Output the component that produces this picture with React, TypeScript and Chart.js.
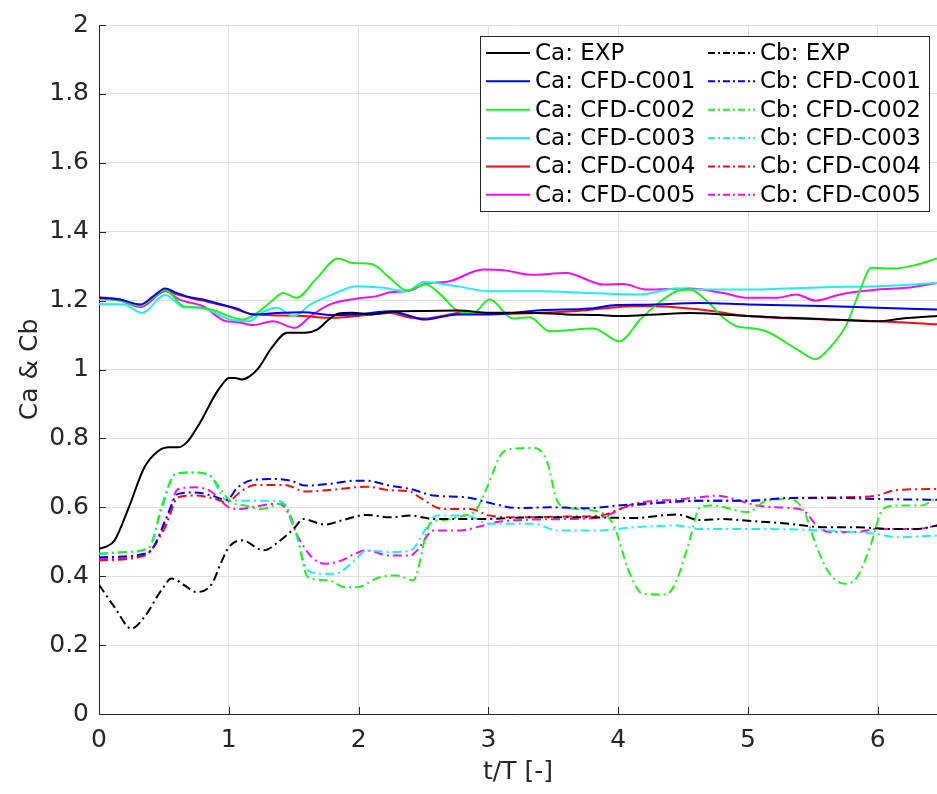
import React, { useEffect, useRef } from "react";
import { Chart, registerables } from "chart.js";

Chart.register(...registerables);

// ---- axis range / ticks ----
const X_MIN = 0;
const X_MAX = 6.456;
const X_STEP = 1;
const Y_MIN = 0;
const Y_MAX = 2;
const Y_STEP = 0.2;

const X_TITLE = "t/T [-]";
const Y_TITLE = "Ca & Cb";

// ---- Ca series ----
const caExpT = [0, 0.05, 0.12, 0.23, 0.35, 0.46, 0.54, 0.61, 0.68, 0.74, 0.8, 0.84, 0.9, 0.95, 1.0, 1.05, 1.1, 1.16, 1.23, 1.33, 1.45, 1.52, 1.59, 1.68, 1.77, 1.84, 1.95, 2.1, 2.28, 2.5, 2.77, 3.0, 3.3, 3.6, 3.85, 4.0, 4.2, 4.4, 4.55, 4.8, 5.0, 5.32, 5.6, 6.0, 6.19, 6.456];
const caExpV = [0.48, 0.485, 0.504, 0.6, 0.716, 0.764, 0.774, 0.774, 0.79, 0.822, 0.86, 0.889, 0.93, 0.957, 0.975, 0.975, 0.971, 0.98, 1.005, 1.063, 1.107, 1.107, 1.107, 1.116, 1.145, 1.162, 1.165, 1.16, 1.169, 1.17, 1.171, 1.165, 1.165, 1.16, 1.158, 1.155, 1.158, 1.162, 1.164, 1.16, 1.155, 1.15, 1.146, 1.14, 1.148, 1.155];

const caC001T = [0, 0.16, 0.32, 0.42, 0.51, 0.6, 0.7, 0.8, 0.96, 1.06, 1.19, 1.37, 1.57, 1.8, 1.98, 2.24, 2.4, 2.5, 2.76, 3.01, 3.4, 3.78, 3.99, 4.2, 4.63, 5.0, 5.58, 6.0, 6.456];
const caC001V = [1.208, 1.203, 1.189, 1.213, 1.235, 1.222, 1.21, 1.203, 1.187, 1.177, 1.16, 1.164, 1.166, 1.158, 1.16, 1.169, 1.155, 1.145, 1.16, 1.16, 1.172, 1.177, 1.187, 1.188, 1.193, 1.189, 1.184, 1.179, 1.174];

const caC002T = [0, 0.16, 0.32, 0.42, 0.51, 0.65, 0.75, 0.9, 1.0, 1.11, 1.215, 1.32, 1.42, 1.52, 1.68, 1.84, 1.96, 2.1, 2.24, 2.37, 2.52, 2.63, 2.77, 2.88, 3.01, 3.19, 3.32, 3.47, 3.81, 4.01, 4.17, 4.3, 4.45, 4.55, 4.71, 4.81, 4.91, 5.0, 5.14, 5.4, 5.52, 5.63, 5.76, 5.86, 5.95, 6.12, 6.3, 6.456];
const caC002V = [1.205, 1.2, 1.185, 1.21, 1.23, 1.184, 1.181, 1.17, 1.155, 1.145, 1.164, 1.195, 1.222, 1.208, 1.266, 1.322, 1.309, 1.306, 1.266, 1.23, 1.247, 1.218, 1.169, 1.164, 1.203, 1.148, 1.152, 1.111, 1.119, 1.082, 1.145, 1.19, 1.227, 1.232, 1.189, 1.15, 1.126, 1.121, 1.111, 1.053, 1.03, 1.063, 1.131, 1.227, 1.295, 1.293, 1.304, 1.322];

const caC003T = [0, 0.19, 0.33, 0.51, 0.65, 0.78, 1.01, 1.16, 1.24, 1.37, 1.5, 1.63, 1.8, 1.985, 2.19, 2.37, 2.5, 2.756, 3.01, 3.4, 3.78, 4.17, 4.45, 4.55, 5.0, 5.58, 6.0, 6.456];
const caC003V = [1.19, 1.189, 1.164, 1.216, 1.181, 1.179, 1.145, 1.14, 1.162, 1.179, 1.155, 1.189, 1.218, 1.242, 1.237, 1.227, 1.254, 1.242, 1.227, 1.227, 1.222, 1.218, 1.235, 1.232, 1.232, 1.239, 1.242, 1.251];

const caC004T = [0, 0.16, 0.32, 0.42, 0.51, 0.6, 0.7, 0.8, 0.98, 1.19, 1.37, 1.57, 1.8, 1.98, 2.24, 2.4, 2.5, 2.83, 3.14, 3.65, 3.99, 4.2, 4.63, 5.0, 5.58, 6.0, 6.456];
const caC004V = [1.21, 1.203, 1.186, 1.21, 1.229, 1.218, 1.208, 1.2, 1.184, 1.16, 1.157, 1.155, 1.15, 1.155, 1.164, 1.15, 1.148, 1.166, 1.162, 1.169, 1.181, 1.184, 1.174, 1.155, 1.145, 1.14, 1.131];

const caC005T = [0, 0.16, 0.32, 0.51, 0.62, 0.8, 0.98, 1.06, 1.19, 1.34, 1.51, 1.63, 1.78, 1.99, 2.14, 2.24, 2.4, 2.5, 2.7, 2.96, 3.14, 3.32, 3.6, 3.885, 4.04, 4.22, 4.55, 4.81, 5.0, 5.22, 5.37, 5.52, 5.71, 6.0, 6.22, 6.456];
const caC005V = [1.208, 1.2, 1.181, 1.227, 1.203, 1.184, 1.14, 1.138, 1.129, 1.14, 1.121, 1.155, 1.189, 1.206, 1.213, 1.224, 1.229, 1.247, 1.256, 1.29, 1.287, 1.275, 1.28, 1.247, 1.248, 1.232, 1.235, 1.222, 1.208, 1.208, 1.218, 1.2, 1.218, 1.232, 1.237, 1.251];

// ---- Cb series ----
const cbExpT = [0, 0.12, 0.25, 0.35, 0.48, 0.56, 0.66, 0.75, 0.87, 0.93, 1.0, 1.1, 1.27, 1.38, 1.51, 1.57, 1.74, 1.87, 2.06, 2.24, 2.4, 2.58, 2.96, 3.35, 3.73, 4.12, 4.45, 4.63, 4.81, 5.0, 5.32, 5.58, 5.84, 6.09, 6.3, 6.456];
const cbExpV = [0.375, 0.31, 0.248, 0.282, 0.359, 0.393, 0.373, 0.354, 0.378, 0.43, 0.484, 0.504, 0.475, 0.499, 0.542, 0.566, 0.55, 0.562, 0.578, 0.571, 0.576, 0.566, 0.566, 0.571, 0.571, 0.569, 0.579, 0.563, 0.566, 0.561, 0.552, 0.542, 0.542, 0.537, 0.537, 0.547];

const cbC001T = [0, 0.35, 0.42, 0.52, 0.61, 0.74, 0.87, 0.98, 1.07, 1.18, 1.38, 1.48, 1.59, 1.77, 1.97, 2.06, 2.24, 2.4, 2.58, 2.83, 3.04, 3.22, 3.47, 3.76, 3.99, 4.245, 4.63, 5.0, 5.32, 5.71, 5.99, 6.456];
const cbC001V = [0.455, 0.465, 0.484, 0.571, 0.639, 0.643, 0.634, 0.621, 0.658, 0.679, 0.682, 0.677, 0.663, 0.668, 0.677, 0.677, 0.663, 0.653, 0.634, 0.629, 0.61, 0.598, 0.6, 0.597, 0.605, 0.612, 0.619, 0.619, 0.627, 0.627, 0.624, 0.622];

const cbC002T = [0, 0.2, 0.39, 0.48, 0.59, 0.74, 0.855, 0.945, 1.02, 1.125, 1.25, 1.41, 1.51, 1.61, 1.77, 1.9, 1.985, 2.16, 2.29, 2.42, 2.55, 2.65, 2.8, 2.9, 2.99, 3.11, 3.22, 3.35, 3.45, 3.53, 3.6, 3.86, 3.96, 4.09, 4.19, 4.37, 4.45, 4.55, 4.63, 4.73, 5.0, 5.14, 5.32, 5.43, 5.53, 5.63, 5.75, 5.84, 5.94, 6.04, 6.14, 6.33, 6.456];
const cbC002V = [0.465, 0.47, 0.484, 0.6, 0.697, 0.701, 0.692, 0.648, 0.615, 0.605, 0.595, 0.61, 0.542, 0.397, 0.388, 0.368, 0.368, 0.397, 0.402, 0.388, 0.552, 0.563, 0.575, 0.59, 0.658, 0.759, 0.771, 0.772, 0.735, 0.619, 0.6, 0.586, 0.552, 0.407, 0.349, 0.347, 0.388, 0.504, 0.6, 0.605, 0.586, 0.619, 0.624, 0.59, 0.484, 0.407, 0.378, 0.397, 0.484, 0.595, 0.605, 0.605, 0.629];

const cbC003T = [0, 0.2, 0.38, 0.48, 0.59, 0.74, 0.855, 0.97, 1.07, 1.36, 1.43, 1.51, 1.61, 1.72, 1.82, 1.97, 2.06, 2.24, 2.4, 2.525, 2.6, 2.83, 3.01, 3.35, 3.53, 3.86, 4.12, 4.45, 4.63, 5.0, 5.58, 5.99, 6.14, 6.456];
const cbC003V = [0.465, 0.47, 0.482, 0.59, 0.697, 0.701, 0.692, 0.624, 0.619, 0.619, 0.61, 0.533, 0.417, 0.407, 0.407, 0.446, 0.475, 0.47, 0.475, 0.542, 0.576, 0.576, 0.552, 0.552, 0.533, 0.533, 0.542, 0.547, 0.537, 0.537, 0.533, 0.523, 0.513, 0.518];

const cbC004T = [0, 0.35, 0.51, 0.61, 0.74, 0.87, 0.98, 1.1, 1.2, 1.43, 1.59, 1.77, 1.97, 2.06, 2.24, 2.4, 2.47, 2.65, 2.86, 3.01, 3.22, 3.6, 3.86, 4.07, 4.245, 4.63, 5.0, 5.32, 5.71, 5.99, 6.14, 6.456];
const cbC004V = [0.446, 0.46, 0.542, 0.629, 0.634, 0.627, 0.615, 0.648, 0.665, 0.665, 0.646, 0.65, 0.658, 0.66, 0.65, 0.645, 0.629, 0.595, 0.595, 0.576, 0.571, 0.573, 0.576, 0.602, 0.61, 0.619, 0.619, 0.627, 0.629, 0.634, 0.65, 0.653];

const cbC005T = [0, 0.35, 0.51, 0.61, 0.74, 0.855, 1.0, 1.07, 1.36, 1.43, 1.535, 1.64, 1.74, 1.87, 1.97, 2.06, 2.24, 2.4, 2.45, 2.58, 2.78, 2.96, 3.09, 3.6, 3.86, 4.12, 4.5, 4.63, 4.76, 4.94, 5.07, 5.32, 5.43, 5.53, 5.63, 5.84, 5.99, 6.3, 6.456];
const cbC005V = [0.45, 0.46, 0.552, 0.653, 0.658, 0.648, 0.6, 0.595, 0.61, 0.6, 0.513, 0.455, 0.436, 0.446, 0.465, 0.475, 0.46, 0.46, 0.475, 0.533, 0.533, 0.547, 0.559, 0.566, 0.571, 0.61, 0.624, 0.629, 0.634, 0.619, 0.605, 0.598, 0.59, 0.547, 0.528, 0.528, 0.537, 0.537, 0.547];

const caLabels = ["Ca: EXP", "Ca: CFD-C001", "Ca: CFD-C002", "Ca: CFD-C003", "Ca: CFD-C004", "Ca: CFD-C005"];
const cbLabels = ["Cb: EXP", "Cb: CFD-C001", "Cb: CFD-C002", "Cb: CFD-C003", "Cb: CFD-C004", "Cb: CFD-C005"];
const seriesColors = ["#000000", "#0000f0", "#22ee22", "#22eeee", "#ee1111", "#ee11ee"];

const caT = [caExpT, caC001T, caC002T, caC003T, caC004T, caC005T];
const caV = [caExpV, caC001V, caC002V, caC003V, caC004V, caC005V];
const cbT = [cbExpT, cbC001T, cbC002T, cbC003T, cbC004T, cbC005T];
const cbV = [cbExpV, cbC001V, cbC002V, cbC003V, cbC004V, cbC005V];

const FONT = "'DejaVu Sans', 'Liberation Sans', sans-serif";
const TEXT = "#262626";
const DASHDOT = [9, 4, 2, 4];

function pts(t: number[], v: number[]) {
  return t.map((x, i) => ({ x, y: v[i] }));
}

const innerTicks = {
  id: "innerTicks",
  beforeDatasetsDraw(chart: any) {
    const { ctx, chartArea, scales } = chart;
    ctx.save();
    ctx.strokeStyle = TEXT;
    ctx.lineWidth = 1;
    ctx.beginPath();
    scales.x.ticks.forEach((t: any) => {
      const px = Math.round(scales.x.getPixelForValue(t.value)) + 0.5;
      ctx.moveTo(px, chartArea.bottom);
      ctx.lineTo(px, chartArea.bottom - 7);
    });
    scales.y.ticks.forEach((t: any) => {
      const py = Math.round(scales.y.getPixelForValue(t.value)) + 0.5;
      ctx.moveTo(chartArea.left, py);
      ctx.lineTo(chartArea.left + 7, py);
    });
    ctx.stroke();
    ctx.restore();
  },
};

const boxLegend = {
  id: "boxLegend",
  afterDraw(chart: any) {
    const { ctx } = chart;
    const ds = chart.data.datasets;
    const left = 480.5, top = 36.5, right = 929.5, bottom = 211.5;
    const rowH = 28.35;
    const firstRow = 53;
    const cols = [
      { x0: 486, x1: 530, tx: 535 },
      { x0: 708, x1: 755, tx: 760 },
    ];
    ctx.save();
    ctx.fillStyle = "#ffffff";
    ctx.fillRect(left, top, right - left, bottom - top);
    ctx.strokeStyle = TEXT;
    ctx.lineWidth = 1;
    ctx.strokeRect(left, top, right - left, bottom - top);
    ctx.font = `23px ${FONT}`;
    ctx.textBaseline = "middle";
    ctx.textAlign = "left";
    ds.forEach((d: any, i: number) => {
      const c = cols[i < 6 ? 0 : 1];
      const y = firstRow + (i % 6) * rowH;
      ctx.strokeStyle = d.borderColor;
      ctx.lineWidth = 2;
      ctx.setLineDash(d.borderDash && d.borderDash.length ? [7, 3, 2, 3] : []);
      ctx.beginPath();
      ctx.moveTo(c.x0, y);
      ctx.lineTo(c.x1, y);
      ctx.stroke();
      ctx.setLineDash([]);
      ctx.fillStyle = "#000000";
      ctx.fillText(d.label, c.tx, y + 1);
    });
    ctx.restore();
  },
};

export default function App() {
  const ref = useRef<HTMLCanvasElement | null>(null);

  useEffect(() => {
    if (!ref.current) return;
    const datasets: any[] = [];
    caLabels.forEach((label, i) => {
      datasets.push({
        label,
        data: pts(caT[i], caV[i]),
        borderColor: seriesColors[i],
        borderWidth: 2,
        borderDash: [],
        pointRadius: 0,
        fill: false,
        cubicInterpolationMode: "monotone",
      });
    });
    cbLabels.forEach((label, i) => {
      datasets.push({
        label,
        data: pts(cbT[i], cbV[i]),
        borderColor: seriesColors[i],
        borderWidth: 2,
        borderDash: DASHDOT,
        pointRadius: 0,
        fill: false,
        cubicInterpolationMode: "monotone",
      });
    });

    const tickFont = { family: FONT, size: 25 };
    const chart = new Chart(ref.current, {
      type: "line",
      data: { datasets },
      plugins: [innerTicks, boxLegend],
      options: {
        animation: false,
        responsive: false,
        devicePixelRatio: 1,
        layout: { padding: { top: 23, left: 0, right: 0, bottom: 0 } },
        plugins: { legend: { display: false }, tooltip: { enabled: false } },
        scales: {
          x: {
            type: "linear",
            min: X_MIN,
            max: X_MAX,
            ticks: {
              stepSize: X_STEP,
              includeBounds: false,
              padding: 11,
              color: TEXT,
              font: tickFont,
              maxRotation: 0,
            },
            grid: { color: "#e0e0e0", drawTicks: false, lineWidth: 1 },
            border: { color: TEXT, width: 1 },
            title: {
              display: true,
              text: X_TITLE,
              color: TEXT,
              font: tickFont,
              padding: { top: 0, bottom: 7 },
            },
            afterFit: (s: any) => {
              s.height = 80;
            },
          },
          y: {
            type: "linear",
            min: Y_MIN,
            max: Y_MAX,
            ticks: {
              stepSize: Y_STEP,
              padding: 10,
              color: TEXT,
              font: tickFont,
              callback: (v: any) => String(Math.round(Number(v) * 10) / 10),
            },
            grid: { color: "#e0e0e0", drawTicks: false, lineWidth: 1 },
            border: { color: TEXT, width: 1 },
            title: {
              display: true,
              text: Y_TITLE,
              color: TEXT,
              font: tickFont,
              padding: { top: 15, bottom: 0 },
            },
            afterFit: (s: any) => {
              s.width = 99;
            },
          },
        },
      } as any,
    });
    return () => chart.destroy();
  }, []);

  return (
    <div style={{ position: "absolute", left: 0, top: 0, width: 937, height: 794, background: "#fff" }}>
      <canvas ref={ref} width={937} height={794} style={{ display: "block" }} />
    </div>
  );
}
